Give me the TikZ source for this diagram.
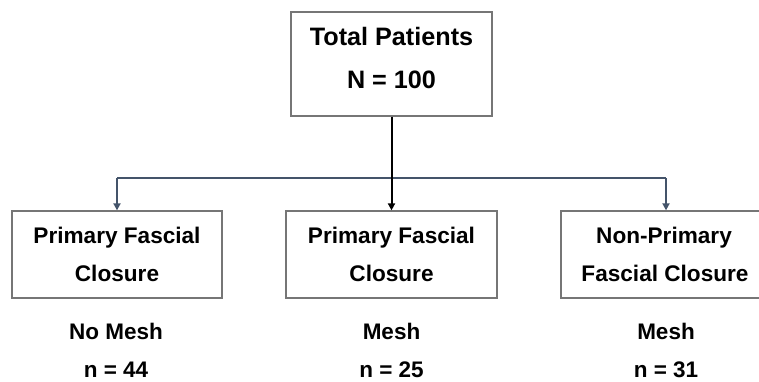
\documentclass[tikz,border=0pt]{standalone}
\usepackage{fontspec}
\setmainfont{Liberation Sans}
\usetikzlibrary{arrows.meta}
\definecolor{linkblue}{HTML}{44546A}
\definecolor{boxgray}{HTML}{767676}
\begin{document}
\begin{tikzpicture}[x=1pt,y=-1pt,
  box/.style={draw=boxgray, line width=1.3pt, inner sep=0pt, fill=white},
  toptxt/.style={font=\bfseries\fontsize{25.2}{29}\selectfont, inner sep=0pt, anchor=base},
  boxtxt/.style={font=\bfseries\fontsize{22.6}{26}\selectfont, inner sep=0pt, anchor=base},
  cnttxt/.style={font=\bfseries\fontsize{22.5}{26}\selectfont, inner sep=0pt, anchor=base},
  link/.style={draw=linkblue, line width=2pt},
  tip/.style={-{Triangle[width=7pt,length=7pt]}}
]
\useasboundingbox (0,0) rectangle (759,381);
\clip (0,0) rectangle (759,381);

% boxes
\node[box, minimum width=201pt, minimum height=104pt] (top) at (391.5,64) {};
\node[box, minimum width=210pt, minimum height=87pt] (left) at (117,254.5) {};
\node[box, minimum width=211pt, minimum height=87pt] (mid) at (391.5,254.5) {};
\node[box, minimum width=210pt, minimum height=87pt] (right) at (666,254.5) {};

% text
\node[toptxt] (t1) at (391.5,45.5) {Total Patients};
\node[toptxt] (t2) at (391.5,88.5) {N = 100};

\node[boxtxt] (l1) at (117,243) {Primary Fascial};
\node[boxtxt] (l2) at (117,281) {Closure};
\node[boxtxt] (m1) at (391.5,243) {Primary Fascial};
\node[boxtxt] (m2) at (391.5,281) {Closure};
\node[boxtxt] (r1) at (664,243) {Non-Primary};
\node[boxtxt] (r2) at (665,281) {Fascial Closure};

\node[cnttxt] (l3) at (116,339.3) {No Mesh};
\node[cnttxt] (l4) at (116,377.5) {n = 44};
\node[cnttxt] (m3) at (391.5,339.3) {Mesh};
\node[cnttxt] (m4) at (391.5,377.5) {n = 25};
\node[cnttxt] (r3) at (666,339.3) {Mesh};
\node[cnttxt] (r4) at (666,377.5) {n = 31};

% connectors
\coordinate (hl) at (117,178);
\coordinate (hr) at (666,178);
\draw[link] (hl) -- (hr);
\draw[link, tip] (hl) -- (left.north);
\draw[link, tip] (hr) -- (right.north);
\draw[line width=2pt, black, tip] (top.south) -- (mid.north);
\end{tikzpicture}
\end{document}
